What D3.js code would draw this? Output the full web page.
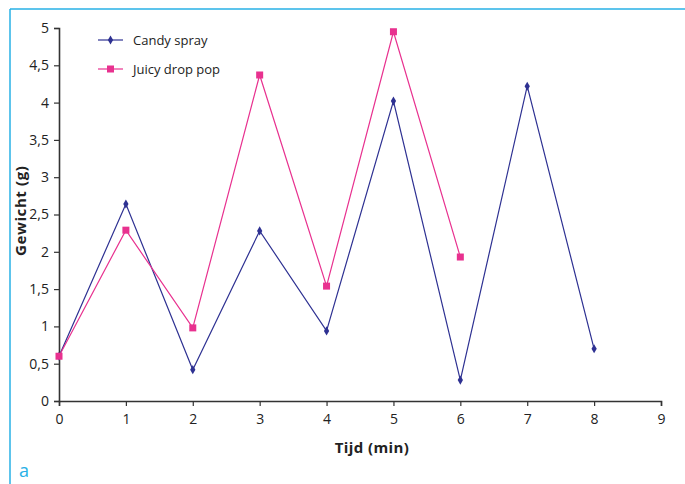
<!DOCTYPE html>
<html>
<head>
<meta charset="utf-8">
<script src="https://cdn.jsdelivr.net/npm/d3@7.9.0/dist/d3.min.js"></script>
<style>
  body { margin: 0; background: #fff; }
  svg { display: block; font-family: "Open Sans", "DejaVu Sans", sans-serif; }
</style>
</head>
<body>
<svg id="chart" width="685" height="484"></svg>
<script>
// data
const candyTimes = [0, 1, 2, 3, 4, 5, 6, 7, 8];
const candyValues = [0.6, 2.64, 0.42, 2.28, 0.94, 4.02, 0.28, 4.22, 0.70];
const juicyTimes = [0, 1, 2, 3, 4, 5, 6];
const juicyValues = [0.6, 2.29, 0.98, 4.37, 1.54, 4.95, 1.93];
const xTicks = [0, 1, 2, 3, 4, 5, 6, 7, 8, 9];
const yTicks = [0, 0.5, 1, 1.5, 2, 2.5, 3, 3.5, 4, 4.5, 5];
const seriesNames = ["Candy spray", "Juicy drop pop"];

const blue = "#2e3192";
const pink = "#e8318f";
const frame = "#27b0e6";

const svg = d3.select("#chart");
const margin = { top: 28, right: 24, bottom: 83, left: 59 };
const width = 661 - margin.left;
const height = 401 - margin.top;

// light blue frame lines
svg.append("line")
  .attr("x1", 10).attr("x2", 685).attr("y1", 9).attr("y2", 9)
  .attr("stroke", frame).attr("stroke-width", 1.5);
svg.append("line")
  .attr("x1", 10).attr("x2", 10).attr("y1", 9).attr("y2", 484)
  .attr("stroke", frame).attr("stroke-width", 1.5);

svg.append("text")
  .attr("x", 19).attr("y", 477)
  .attr("fill", frame)
  .attr("font-size", "18px")
  .text("a");

const g = svg.append("g")
  .attr("transform", `translate(${margin.left},${margin.top})`);

const x = d3.scaleLinear().domain([0, 9]).range([0, width]);
const y = d3.scaleLinear().domain([0, 5]).range([height, 0]);

const fmt = d => String(d).replace(".", ",");

const xAxis = g.append("g")
  .attr("transform", `translate(0,${height})`)
  .call(d3.axisBottom(x).tickValues(xTicks).tickSize(5).tickPadding(8).tickFormat(fmt));

const yAxis = g.append("g")
  .call(d3.axisLeft(y).tickValues(yTicks).tickSize(5).tickPadding(5).tickFormat(fmt));

[xAxis, yAxis].forEach(a => {
  a.select(".domain").attr("stroke", "#333").attr("stroke-width", 1.6);
  a.selectAll(".tick line").attr("stroke", "#333").attr("stroke-width", 1.2);
  a.selectAll(".tick text")
    .attr("fill", "#222")
    .attr("font-size", "14px")
    .attr("font-family", "\"Open Sans\", \"DejaVu Sans\", sans-serif");
});

// axis titles
g.append("text")
  .attr("x", x(4.68))
  .attr("y", height + 52)
  .attr("text-anchor", "middle")
  .attr("font-size", "15px")
  .attr("font-weight", "bold")
  .attr("letter-spacing", "0.4px")
  .attr("fill", "#222")
  .text("Tijd (min)");

g.append("text")
  .attr("transform", "rotate(-90)")
  .attr("x", -(y(2.55)))
  .attr("y", -33)
  .attr("text-anchor", "middle")
  .attr("font-size", "15px")
  .attr("font-weight", "bold")
  .attr("letter-spacing", "0.6px")
  .attr("fill", "#222")
  .text("Gewicht (g)");

const candy = candyTimes.map((t, i) => ({ t, v: candyValues[i] }));
const juicy = juicyTimes.map((t, i) => ({ t, v: juicyValues[i] }));

const line = d3.line().x(d => x(d.t)).y(d => y(d.v));

g.append("path").datum(candy)
  .attr("fill", "none").attr("stroke", blue).attr("stroke-width", 1.2)
  .attr("d", line);

g.append("path").datum(juicy)
  .attr("fill", "none").attr("stroke", pink).attr("stroke-width", 1.2)
  .attr("d", line);

const diamond = d3.symbol().type(d3.symbolDiamond).size(24);

g.selectAll(".candy-pt").data(candy).enter()
  .append("path")
  .attr("class", "candy-pt")
  .attr("transform", d => `translate(${x(d.t)},${y(d.v)})`)
  .attr("d", diamond)
  .attr("fill", blue);

g.selectAll(".juicy-pt").data(juicy).enter()
  .append("rect")
  .attr("class", "juicy-pt")
  .attr("x", d => x(d.t) - 3.5)
  .attr("y", d => y(d.v) - 3.5)
  .attr("width", 7).attr("height", 7)
  .attr("fill", pink);

// legend
const legend = svg.append("g").attr("transform", "translate(98,40)");
[blue, pink].forEach((c, i) => {
  const row = legend.append("g").attr("transform", `translate(0,${i * 29})`);
  row.append("line").attr("x1", 0).attr("x2", 25).attr("stroke", c).attr("stroke-width", 1.2);
  if (i === 0) {
    row.append("path").attr("transform", "translate(12.5,0)").attr("d", diamond).attr("fill", c);
  } else {
    row.append("rect").attr("x", 9).attr("y", -3.5).attr("width", 7).attr("height", 7).attr("fill", c);
  }
  row.append("text")
    .attr("x", 35).attr("y", 4.5)
    .attr("font-size", "13px")
    .attr("fill", "#222")
    .text(seriesNames[i]);
});
</script>
</body>
</html>
